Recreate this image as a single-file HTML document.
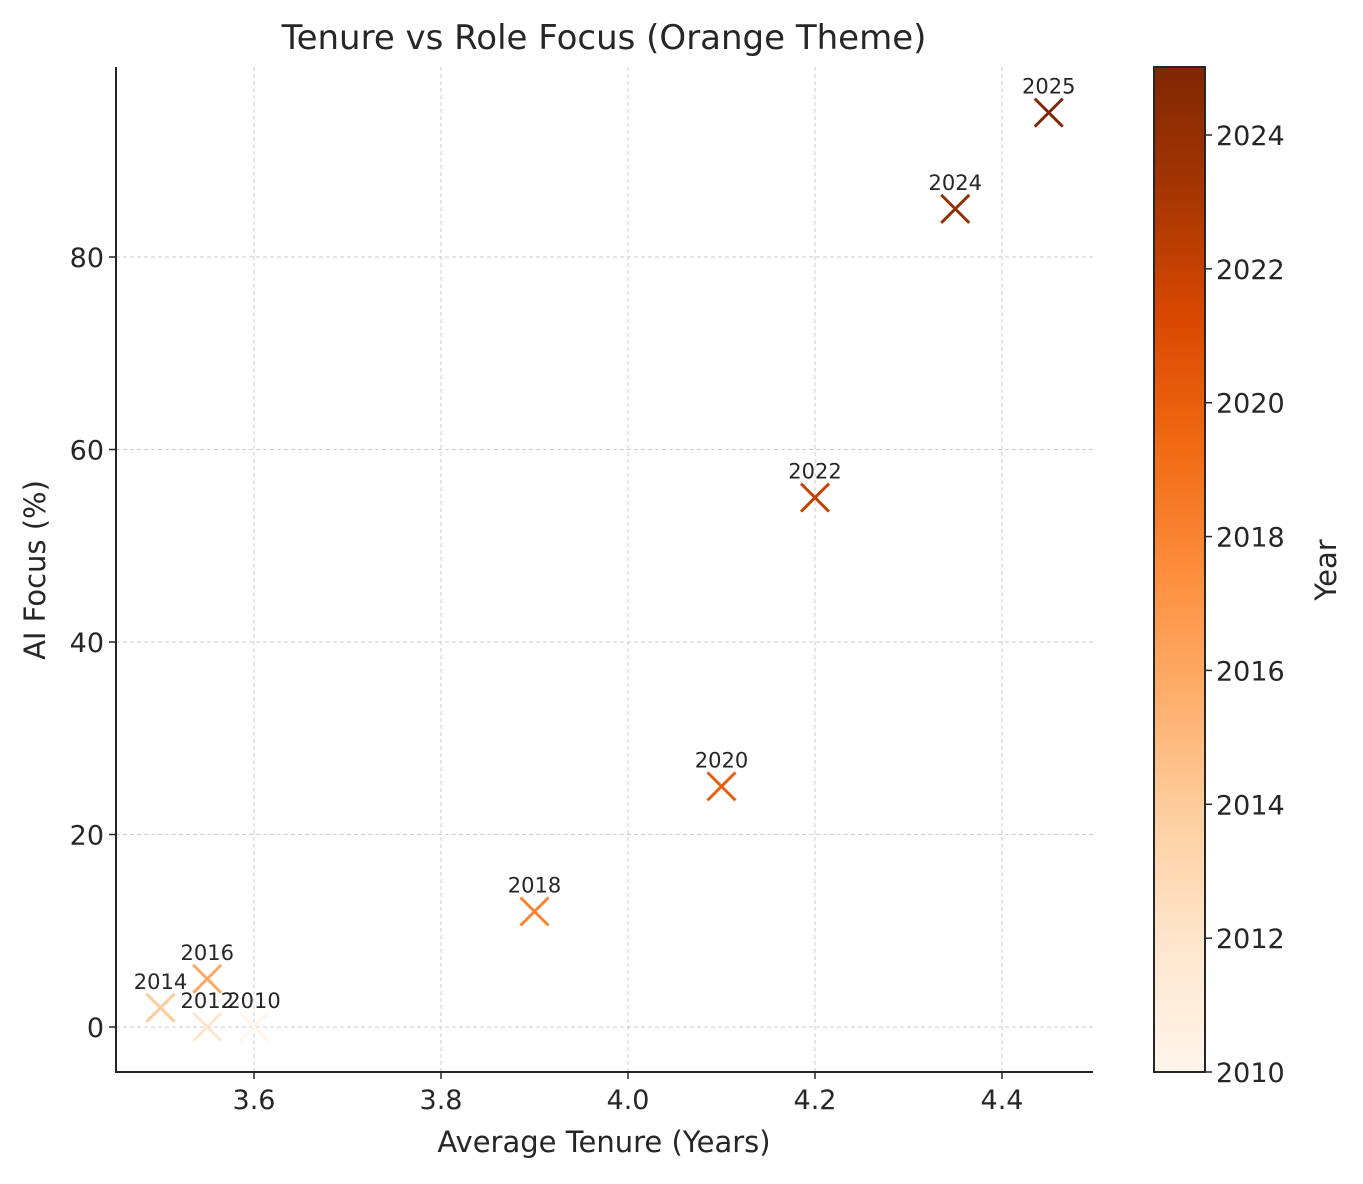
<!DOCTYPE html>
<html><head><meta charset="utf-8">
<style>
body{margin:0;background:#fff;font-family:"DejaVu Sans","Liberation Sans",sans-serif;}
svg text{font-family:"DejaVu Sans","Liberation Sans",sans-serif;fill:#262626;}
</style></head>
<body>
<svg id="chart" width="1363" height="1180" xmlns="http://www.w3.org/2000/svg"></svg>
<script>
const years=[2010,2012,2014,2016,2018,2020,2022,2024,2025];
const tenure=[3.6,3.55,3.5,3.55,3.9,4.1,4.2,4.35,4.45];
const aiFocus=[0,0,2,5,12,25,55,85,95];
const xTicks=[3.6,3.8,4.0,4.2,4.4];
const yTicks=[0,20,40,60,80];
const cbTicks=[2010,2012,2014,2016,2018,2020,2022,2024];

const svg=document.getElementById('chart');
const NS='http://www.w3.org/2000/svg';
const L=116,R=1093,T=67,B=1072;
const xs=v=>254+(v-3.6)*(1002-254)/0.8;
const ys=v=>1027-v*(1027-257)/80;
const cbL=1154,cbR=1205;
const cy=v=>1072-(v-2010)*(1072-135)/14;
const stops=['#fff5eb','#fee6ce','#fdd0a2','#fdae6b','#fd8d3c','#f16913','#d94801','#a63603','#7f2704'];
function hex(h){return [1,3,5].map(i=>parseInt(h.substr(i,2),16));}
function cmap(t){t=Math.max(0,Math.min(1,t));const p=t*8,i=Math.min(7,Math.floor(p)),f=p-i;const a=hex(stops[i]),b=hex(stops[i+1]);return 'rgb('+a.map((v,k)=>Math.round(v+(b[k]-v)*f)).join(',')+')';}
function el(tag,attrs,parent){const e=document.createElementNS(NS,tag);for(const k in attrs)e.setAttribute(k,attrs[k]);(parent||svg).appendChild(e);return e;}

// grid
xTicks.forEach(v=>{const g=el('line',{x1:xs(v),x2:xs(v),y1:T,y2:B,stroke:'#cccccc','stroke-width':1,'stroke-dasharray':'4,3'});

});
yTicks.forEach(v=>{const g=el('line',{x1:L,x2:R,y1:ys(v),y2:ys(v),stroke:'#cccccc','stroke-width':1,'stroke-dasharray':'4,3'});

});

// axes
const ax=el('path',{d:`M${L},${T}V${B}H${R}`,fill:'none',stroke:'#262626','stroke-width':2});


xTicks.forEach(v=>{el('line',{x1:xs(v),x2:xs(v),y1:B,y2:B+7,stroke:'#262626','stroke-width':1.5});
const t=el('text',{x:xs(v),y:B+37,'text-anchor':'middle','font-size':27});t.textContent=v.toFixed(1);

});
yTicks.forEach(v=>{el('line',{x1:L-7,x2:L,y1:ys(v),y2:ys(v),stroke:'#262626','stroke-width':1.5});
const t=el('text',{x:L-12,y:ys(v)+10,'text-anchor':'end','font-size':27});t.textContent=v;

});

// points
years.forEach((yr,i)=>{const x=xs(tenure[i]),y=ys(aiFocus[i]),c=cmap((yr-2010)/15),s=14;
const g=el('path',{d:`M${x-s},${y-s}L${x+s},${y+s}M${x-s},${y+s}L${x+s},${y-s}`,stroke:c,'stroke-width':3,fill:'none'});


const t=el('text',{x:x,y:y-19,'text-anchor':'middle','font-size':21});t.textContent=yr;

});

// titles
let t=el('text',{x:604,y:49,'text-anchor':'middle','font-size':34});t.textContent='Tenure vs Role Focus (Orange Theme)';


t=el('text',{x:604,y:1152,'text-anchor':'middle','font-size':29});t.textContent='Average Tenure (Years)';


t=el('text',{x:0,y:0,'text-anchor':'middle','font-size':29,transform:'translate(45,570) rotate(-90)'});t.textContent='AI Focus (%)';



// colorbar
const defs=el('defs',{});const lg=el('linearGradient',{id:'cbg',x1:0,y1:1,x2:0,y2:0},defs);
for(let k=0;k<=8;k++)el('stop',{offset:k/8,'stop-color':stops[k]},lg);
const cb=el('rect',{x:cbL,y:T,width:cbR-cbL,height:B-T,fill:'url(#cbg)',stroke:'#262626','stroke-width':2});


cbTicks.forEach(v=>{el('line',{x1:cbR,x2:cbR+7,y1:cy(v),y2:cy(v),stroke:'#262626','stroke-width':1.5});
const tt=el('text',{x:cbR+11,y:cy(v)+10,'font-size':27});tt.textContent=v;

});
t=el('text',{x:0,y:0,'text-anchor':'middle','font-size':29,transform:'translate(1336,570) rotate(-90)'});t.textContent='Year';


</script>
</body></html>
